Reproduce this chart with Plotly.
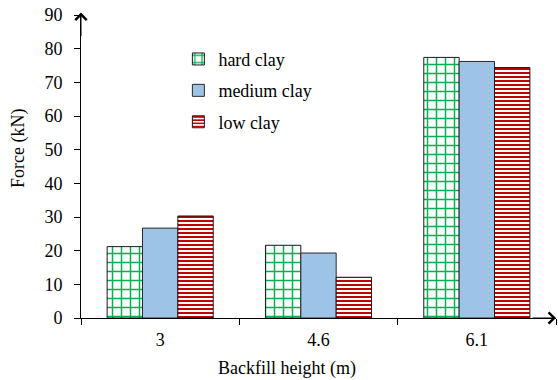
import plotly.graph_objects as go

# Backfill heights (m) and lateral force (kN) for each clay type
heights = ["3", "4.6", "6.1"]
hard_clay = [21.2, 21.6, 77.4]
medium_clay = [26.7, 19.3, 76.2]
low_clay = [30.3, 12.1, 74.4]

FONT = "Times New Roman, Liberation Serif, Times, serif"
FS = 18
L, R, T, B = 81, 2, 15, 62
W, H = 558, 380

fig = go.Figure()
fig.add_trace(go.Bar(
    name="hard clay", x=heights, y=hard_clay, legendgroup="a",
    marker=dict(color="white", line=dict(color="#1a1a1a", width=1),
                pattern=dict(shape="+", fgcolor="#00B050", bgcolor="white",
                             size=9, solidity=0.3, fgopacity=1)),
))
fig.add_trace(go.Bar(
    name="medium clay", x=heights, y=medium_clay, legendgroup="b",
    marker=dict(color="#9DC3E6", line=dict(color="#2a2a2a", width=1)),
))
fig.add_trace(go.Bar(
    name="low clay", x=heights, y=low_clay, legendgroup="c",
    marker=dict(color="white", line=dict(color="#1a1a1a", width=1),
                pattern=dict(shape="-", fgcolor="#C00000", bgcolor="white",
                             size=4, solidity=0.5, fgopacity=1)),
))

axis_font = dict(family=FONT, size=FS, color="black")

fig.update_layout(
    width=W, height=H,
    margin=dict(l=L, r=R, t=T, b=B),
    paper_bgcolor="white", plot_bgcolor="white",
    barmode="group", bargap=0.33, bargroupgap=0,
    font=dict(family=FONT, size=FS, color="black"),
    showlegend=True,
    legend=dict(x=0.205, y=0.915, xanchor="left", yanchor="top",
                traceorder="grouped", tracegroupgap=5,
                bgcolor="rgba(0,0,0,0)",
                font=dict(family=FONT, size=FS, color="black")),
    xaxis=dict(
        type="category", showline=True, linecolor="black", linewidth=1,
        ticks="outside", tickson="boundaries", ticklen=6, tickcolor="black",
        showgrid=False, zeroline=False, ticklabelstandoff=5,
        tickfont=axis_font,
    ),
    yaxis=dict(
        range=[0, 90], tickvals=list(range(0, 91, 10)),
        showline=True, linecolor="black", linewidth=1,
        ticks="outside", ticklen=6, tickcolor="black",
        showgrid=False, zeroline=False, ticklabelstandoff=8,
        tickfont=axis_font,
    ),
)

plot_w = W - L - R
plot_h = H - T - B

# Axis titles
fig.add_annotation(text="Backfill height (m)", xref="paper", yref="paper",
                   x=(287 - L) / plot_w, y=-(368 - (H - B)) / plot_h,
                   showarrow=False, xanchor="center", yanchor="middle",
                   font=dict(family=FONT, size=FS))
fig.add_annotation(text="Force (kN)", xref="paper", yref="paper",
                   x=(18 - L) / plot_w, y=((H - B) - 148) / plot_h,
                   showarrow=False, textangle=-90, xanchor="center",
                   yanchor="middle", font=dict(family=FONT, size=FS))

# Arrow heads on both axes
fig.add_annotation(x=0, y=1.008, xref="paper", yref="paper", ax=0, ay=25,
                   showarrow=True, arrowhead=4, arrowsize=2.2, arrowwidth=1,
                   arrowcolor="black", text="")
fig.add_annotation(x=1.0, y=0, xref="paper", yref="paper", ax=-25, ay=0,
                   showarrow=True, arrowhead=4, arrowsize=2.2, arrowwidth=1,
                   arrowcolor="black", text="")

fig.write_html("out.html")
